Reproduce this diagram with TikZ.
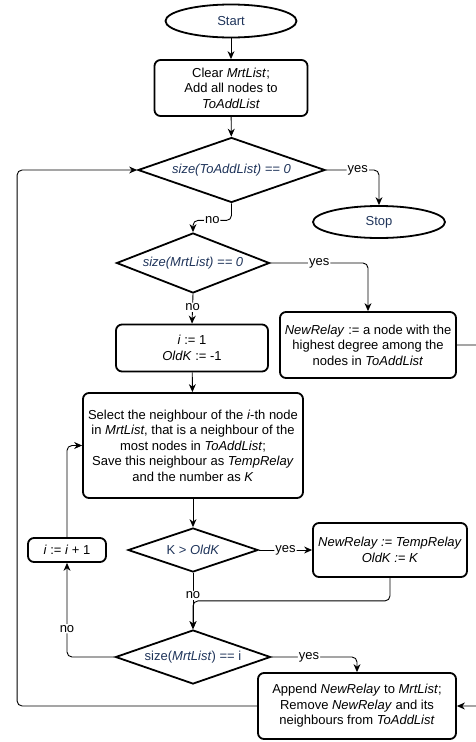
\documentclass[tikz,border=0pt]{standalone}
\usepackage{fontspec}
\setmainfont{Liberation Sans}
\usetikzlibrary{shapes.geometric,arrows.meta}
\definecolor{qblue}{RGB}{31,52,90}
\begin{document}
\begin{tikzpicture}[x=1pt,y=-1pt,
  every node/.style={font=\fontsize{13}{15.5}\selectfont},
  term/.style={ellipse,draw,line width=1.8pt,text=qblue,minimum width=131pt,minimum height=33pt,inner sep=0pt},
  proc/.style={rectangle,rounded corners=6pt,draw,line width=1.8pt,align=center,inner sep=0pt},
  test/.style={diamond,aspect=3,draw,line width=1.8pt,text=qblue,inner sep=0pt},
  flow/.style={-{Stealth[length=8pt,width=7pt]},line width=0.9pt,rounded corners=5pt},
  tag/.style={fill=white,inner sep=1pt}]
  \clip (0,0) rectangle (476,742);

%% nodes
  \node[term] (start) at (231,21) {Start};
  \node[proc,minimum width=153pt,minimum height=56pt] (clear) at (231,88) {Clear \textit{MrtList};\\Add all nodes to\\\textit{ToAddList}};
  \node[test,minimum width=187pt,minimum height=65pt] (empty) at (231.5,170) {\textit{size(ToAddList) == 0}};
  \node[term,minimum width=132pt,minimum height=32pt] (stop) at (379,222) {Stop};
  \node[test,minimum width=153pt,minimum height=60pt] (first) at (193,263) {\textit{size(MrtList) == 0}};
  \node[proc,minimum width=152pt,minimum height=47pt] (init) at (192,348) {\textit{i} := 1\\\textit{OldK} := -1};
  \node[proc,minimum width=176pt,minimum height=66pt] (best) at (368,345) {\textit{NewRelay} := a node with the\\highest degree among the\\nodes in \textit{ToAddList}};
  \node[proc,minimum width=220pt,minimum height=105pt] (select) at (193,445.5) {Select the neighbour of the \textit{i}-th node\\in \textit{MrtList}, that is a neighbour of the\\most nodes in \textit{ToAddList};\\Save this neighbour as \textit{TempRelay}\\and the number as \textit{K}};
  \node[test,minimum width=130pt,minimum height=44pt] (cmp) at (193,550) {K > \textit{OldK}};
  \node[proc,minimum width=154pt,minimum height=54pt] (keep) at (390,550) {\textit{NewRelay := TempRelay}\\\textit{OldK := K}};
  \node[proc,minimum width=78pt,minimum height=24pt] (next) at (67,550) {\textit{i} := \textit{i} + 1};
  \node[test,minimum width=155pt,minimum height=54pt] (last) at (193,657) {size(\textit{MrtList}) == i};
  \node[proc,minimum width=198pt,minimum height=66pt] (append) at (357,706) {Append \textit{NewRelay} to \textit{MrtList};\\Remove \textit{NewRelay} and its\\neighbours from \textit{ToAddList}};

%% main line
  \draw[flow] (start) -- (clear);
  \draw[flow] (clear) -- (empty);
  \draw[flow] (empty.east) -| node[tag,pos=0.3] {yes} (stop.north);
  \draw[flow] (empty.south) -- ++(0,17) -| node[tag,pos=0.25] {no} (first.north);
  \draw[flow] (first.east) -| node[tag,pos=0.25] {yes} (best.north);
  \draw[flow] (first.south) -- node[tag,pos=0.45] {no} (init.north);
  \draw[flow] (init) -- (select);
  \draw[flow] (select) -- (cmp);
  \draw[flow] (cmp.east) -- node[tag] {yes} (keep.west);
  \draw[flow] (cmp.south) -- node[tag,pos=0.4] {no} (last.north);
  \draw[flow] (keep.south) -- ++(0,23) -| (last.north);

%% loops
  \draw[flow] (last.west) -| node[tag,pos=0.65] {no} (next.south);
  \draw[flow] (next.north) |- (select.west);
  \draw[flow] (last.east) -| node[tag,pos=0.22] {yes} (append.north);
  \draw[flow] (append.west) -- ++(-240,0) |- (empty.west);
  \draw[flow] (best.east) -- ++(25,0) |- (append.east);
\end{tikzpicture}
\end{document}
